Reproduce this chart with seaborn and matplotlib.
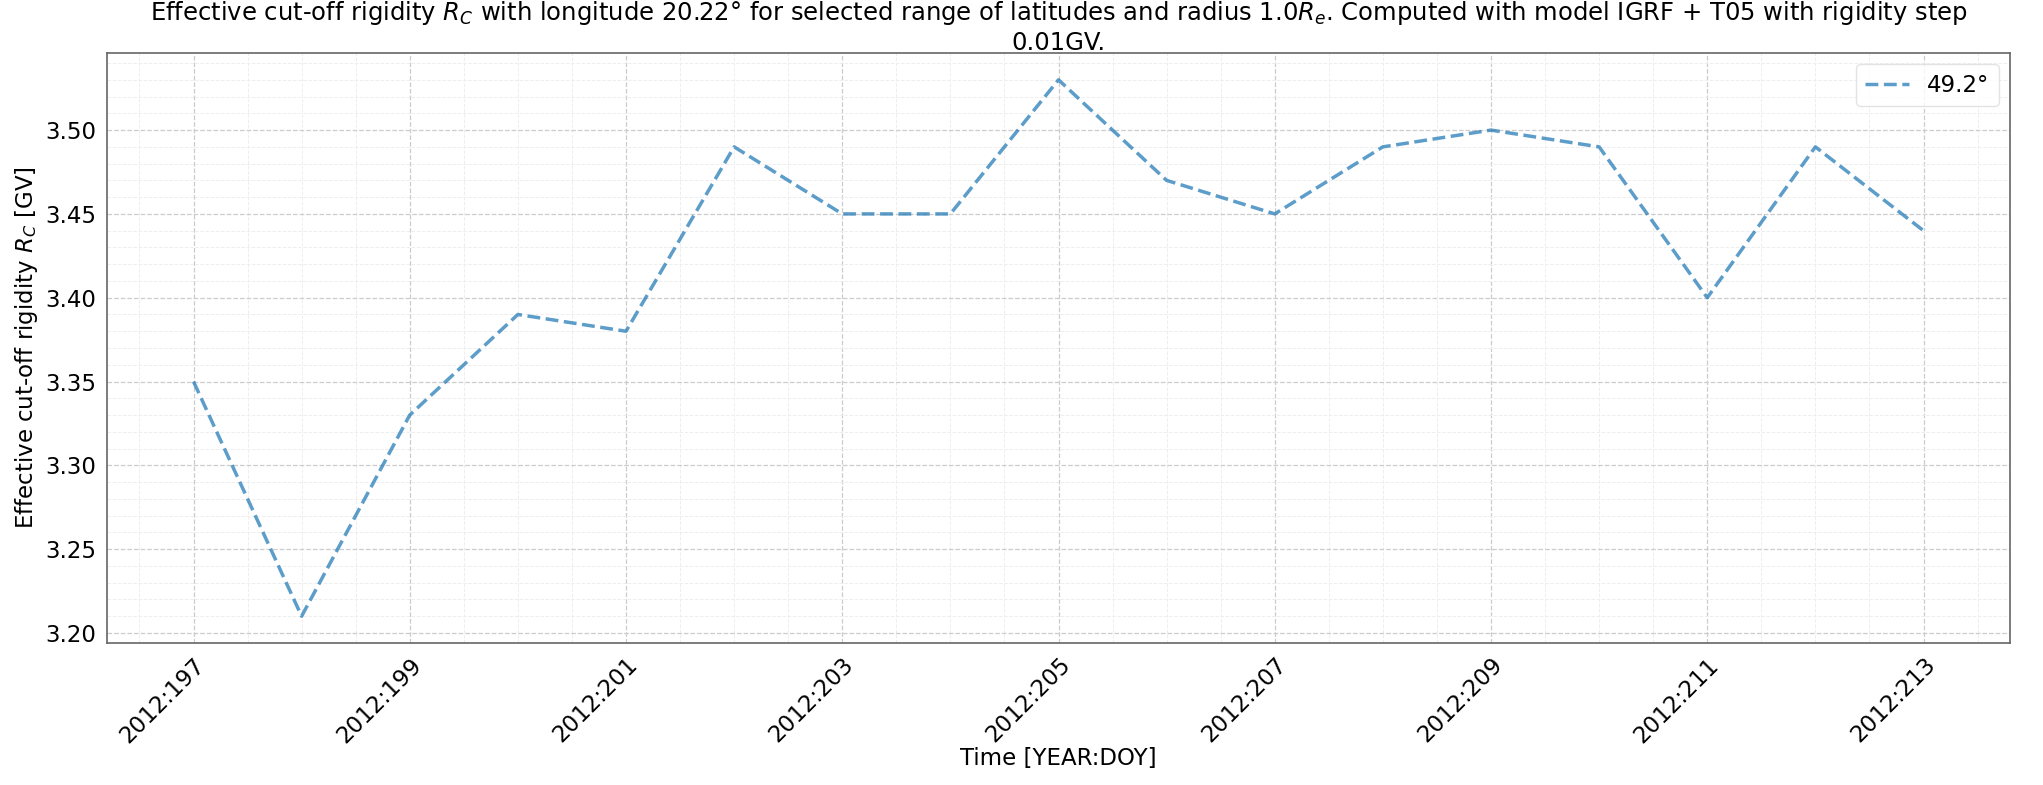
import matplotlib
matplotlib.use("Agg")
import matplotlib.pyplot as plt
from matplotlib.ticker import MultipleLocator, AutoMinorLocator, FuncFormatter
import seaborn as sns
import pandas as pd

year = 2012
doy = [197, 198, 199, 200, 201, 202, 203, 204, 205, 206, 207, 208, 209, 210, 211, 212, 213]
rigidity = [3.35, 3.21, 3.33, 3.39, 3.38, 3.49, 3.45, 3.45, 3.53, 3.47, 3.45, 3.49, 3.50, 3.49, 3.40, 3.49, 3.44]
series_label = "49.2°"

sns.set_style("white")
plt.rcParams['font.family'] = ['DejaVu Sans']
plt.rcParams['text.color'] = 'black'
plt.rcParams['axes.labelcolor'] = 'black'
plt.rcParams['xtick.color'] = 'black'
plt.rcParams['ytick.color'] = 'black'

df = pd.DataFrame({"doy": doy, "rc": rigidity, "lat": series_label})

fig = plt.figure(figsize=(20.43, 7.85), dpi=100)
ax = fig.add_axes([107/2043, 1 - 643/785, 1903/2043, 590/785])

sns.lineplot(data=df, x="doy", y="rc", hue="lat", palette=["#1f77b4"], ax=ax,
             linestyle="--", linewidth=2.5, alpha=0.72)

ax.xaxis.set_major_locator(MultipleLocator(2, offset=1))
ax.xaxis.set_minor_locator(AutoMinorLocator(4))
ax.yaxis.set_major_locator(MultipleLocator(0.05))
ax.yaxis.set_minor_locator(AutoMinorLocator(5))
ax.xaxis.set_major_formatter(FuncFormatter(lambda v, p: f"{year}:{int(round(v))}"))
ax.yaxis.set_major_formatter(FuncFormatter(lambda v, p: f"{v:.2f}"))

ax.grid(which="major", linestyle="--", color="#cccccc", linewidth=0.9)
ax.grid(which="minor", linestyle="--", color="#eeeeee", linewidth=0.7)

ax.tick_params(axis="both", which="major", labelsize=16.5, length=4, color="#555555")
ax.tick_params(axis="both", which="minor", length=0)
plt.setp(ax.get_xticklabels(), rotation=45, ha="right", rotation_mode="anchor")

for s in ax.spines.values():
    s.set_color("#666666")
    s.set_linewidth(1.2)

ax.set_xlabel("Time [YEAR:DOY]", fontsize=16.5, labelpad=0)
ax.set_ylabel("Effective cut-off rigidity $R_C$ [GV]", fontsize=16.5)
ax.set_title("Effective cut-off rigidity $R_C$ with longitude 20.22° for selected range of latitudes and radius 1.0$R_e$. "
             "Computed with model IGRF + T05 with rigidity step\n0.01GV.", fontsize=17.5, pad=2)

leg = ax.legend(loc="upper right", fontsize=16.5, frameon=True, handlelength=1.9)
leg.get_frame().set_edgecolor("#dddddd")

fig.savefig("out.png", dpi=100)
